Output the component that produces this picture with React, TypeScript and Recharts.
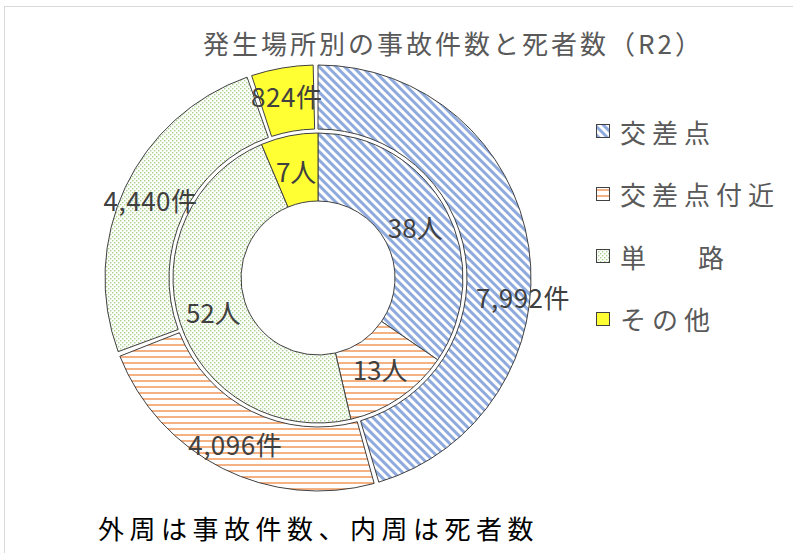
import React from 'react';
import { PieChart, Pie, Cell } from 'recharts';

const categories = ['交差点', '交差点付近', '単　　路', 'その他'];
const accidents = [7992, 4096, 4440, 824];
const deaths = [38, 13, 52, 7];

const fills = ['url(#patBlue)', 'url(#patOrange)', 'url(#patGreen)', '#FFFF33'];
// the 交差点 outer label was dragged down towards the rim in the original
const outerNudge = [[22, 45], [0, 0], [0, 0], [0, 0]];

const outerData = categories.map((name, i) => ({ name, value: accidents[i] }));
const innerData = categories.map((name, i) => ({ name, value: deaths[i] }));

const RAD = Math.PI / 180;
const FONT = '"Noto Sans CJK JP", "Noto Sans", sans-serif';

const fmt = (v: number) => v.toLocaleString('en-US');

function Patterns() {
  return (
    <defs>
      <pattern id="patBlue" width="6" height="6" patternUnits="userSpaceOnUse" patternTransform="rotate(45)">
        <rect width="6" height="6" fill="#fff" />
        <rect width="6" height="3" fill="#8FAADC" />
      </pattern>
      <pattern id="patOrange" width="6" height="6" patternUnits="userSpaceOnUse">
        <rect width="6" height="6" fill="#fff" />
        <rect y="2" width="6" height="2" fill="#F4B183" />
      </pattern>
      <pattern id="patGreen" width="4" height="4" patternUnits="userSpaceOnUse">
        <rect width="4" height="4" fill="#fff" />
        <rect x="0" y="0" width="1.4" height="1.4" fill="#A9D18E" />
        <rect x="2" y="2" width="1.4" height="1.4" fill="#A9D18E" />
      </pattern>
    </defs>
  );
}

const outerLabel = (p: any) => {
  const r = 185;
  const [nx, ny] = outerNudge[p.index];
  const x = p.cx + r * Math.cos(-p.midAngle * RAD) + nx;
  const y = p.cy + r * Math.sin(-p.midAngle * RAD) + ny;
  return (
    <text x={x} y={y} textAnchor="middle" dominantBaseline="central" fill="#404040" fontSize={26} letterSpacing={0.5} fontFamily={FONT}>
      {fmt(p.value)}件
    </text>
  );
};

const innerLabel = (p: any) => {
  const r = 110;
  const x = p.cx + r * Math.cos(-p.midAngle * RAD);
  const y = p.cy + r * Math.sin(-p.midAngle * RAD);
  return (
    <text x={x} y={y} textAnchor="middle" dominantBaseline="central" fill="#404040" fontSize={26} fontFamily={FONT}>
      {p.value}人
    </text>
  );
};

// full-width spaces in the legend are narrower in the original
const legendText = (c: string) =>
  c.split('').map((ch, k) =>
    ch === '　' ? (
      <span key={k} style={{ letterSpacing: -3 }}>{ch}</span>
    ) : (
      <span key={k}>{ch}</span>
    )
  );

export default function App() {
  return (
    <div style={{ position: 'absolute', left: 0, top: 0, width: 793, height: 553, overflow: 'hidden', background: '#fff', fontFamily: FONT }}>
      <div style={{ position: 'absolute', left: 4, top: 6, width: 820, height: 600, borderTop: '1px solid #d9d9d9', borderLeft: '1px solid #d9d9d9' }} />
      <div style={{ position: 'absolute', left: 0, top: 0 }}>
        <PieChart width={793} height={553} margin={{ top: 0, right: 0, bottom: 0, left: 0 }}>
          <Patterns />
          <Pie
            data={outerData}
            dataKey="value"
            cx={318}
            cy={278}
            innerRadius={149}
            outerRadius={213}
            startAngle={90}
            endAngle={-270}
            paddingAngle={1.3}
            stroke="#404040"
            strokeWidth={1}
            label={outerLabel}
            labelLine={false}
            isAnimationActive={false}
          >
            {outerData.map((d, i) => (
              <Cell key={`o-${i}`} fill={fills[i]} />
            ))}
          </Pie>
          <Pie
            data={innerData}
            dataKey="value"
            cx={318}
            cy={278}
            innerRadius={77}
            outerRadius={145}
            startAngle={90}
            endAngle={-270}
            stroke="#404040"
            strokeWidth={1}
            label={innerLabel}
            labelLine={false}
            isAnimationActive={false}
          >
            {innerData.map((d, i) => (
              <Cell key={`i-${i}`} fill={fills[i]} />
            ))}
          </Pie>
        </PieChart>
      </div>
      <div style={{ position: 'absolute', left: 203, top: 26, fontSize: 26, letterSpacing: 3, color: '#595959', lineHeight: '34px', whiteSpace: 'nowrap' }}>
        発生場所別の事故件数と死者数（R2）
      </div>
      <div style={{ position: 'absolute', left: 596, top: 100 }}>
        {categories.map((c, i) => (
          <div key={c} style={{ display: 'flex', alignItems: 'center', height: 62.5 }}>
            <svg width={14} height={14} style={{ marginRight: 10 }}>
              <rect x={0.5} y={0.5} width={13} height={13} fill={fills[i]} stroke="#404040" strokeWidth={1} />
            </svg>
            <span style={{ fontSize: 26, letterSpacing: 6, color: '#595959', whiteSpace: 'pre' }}>{legendText(c)}</span>
          </div>
        ))}
      </div>
      <div style={{ position: 'absolute', left: 98, top: 511, fontSize: 26, letterSpacing: 5.5, color: '#000', lineHeight: '34px', whiteSpace: 'nowrap' }}>
        外周は事故件数、内周は死者数
      </div>
    </div>
  );
}
